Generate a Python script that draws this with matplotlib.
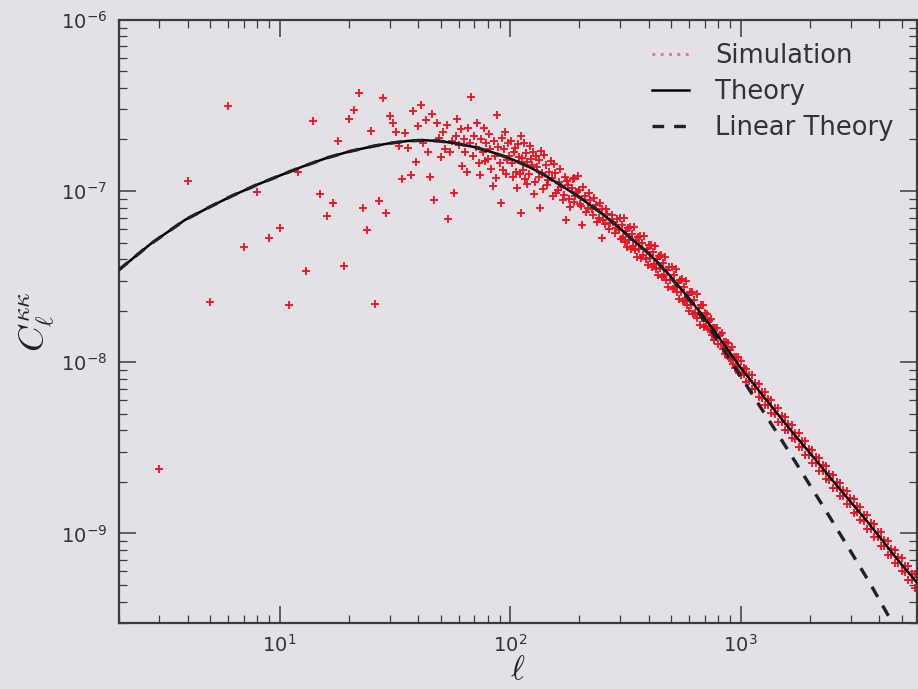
import numpy as np
import matplotlib
matplotlib.use("Agg")
import matplotlib.pyplot as plt
from matplotlib.lines import Line2D

# ---------------- data ----------------
# Theory (non-linear) curve, C in units of 1e-8
ell_theory = [2, 2.75, 3.9, 5, 6.25, 8, 10, 12.6, 16, 20, 25.6, 30, 36, 42, 49, 58,
              69.5, 83, 100, 120, 141, 170, 200, 240, 284, 340, 405, 480, 600, 750,
              1000, 1500, 2500, 3500, 4900, 5800]
cl_theory = [3.45, 4.9, 6.8, 8.1, 9.4, 10.9, 12.3, 13.9, 15.6, 17.0, 18.3, 19.0, 19.6, 19.8,
             19.6, 19.0, 18.1, 16.9, 15.5, 13.9, 12.4, 10.6, 9.2, 7.7, 6.45, 5.2, 4.25, 3.35,
             2.35, 1.6, 0.93, 0.47, 0.205, 0.12, 0.068, 0.052]

# Linear theory, C in units of 1e-8
ell_linear = [2, 2.75, 3.9, 5, 6.25, 8, 10, 12.6, 16, 20, 25.6, 30, 36, 42, 49, 58,
              69.5, 83, 100, 120, 141, 170, 200, 240, 284, 340, 405, 480, 600, 750,
              1000, 1250, 1500, 1800, 2200, 2500, 2900, 3250, 3650, 4000, 4500, 5000]
cl_linear = [3.45, 4.9, 6.8, 8.1, 9.4, 10.9, 12.3, 13.9, 15.6, 17.0, 18.3, 19.0, 19.6, 19.8,
             19.6, 19.0, 18.1, 16.9, 15.5, 13.9, 12.4, 10.6, 9.2, 7.7, 6.45, 5.2, 4.25, 3.32,
             2.3, 1.52, 0.83, 0.52, 0.355, 0.24, 0.156, 0.118, 0.085, 0.066, 0.051, 0.041,
             0.031, 0.024]

# Simulation, low multipoles 3..99 (C in units of 1e-8)
ell_sim_low = list(range(3, 100))
cl_sim_low = [0.238, 11.5, 2.25, 31.4, 4.7, 9.9, 5.3, 6.1, 2.15, 13.0,
              3.4, 25.7, 9.6, 7.1, 8.5, 19.7, 3.66, 26.5, 29.8, 37.4,
              8.0, 5.9, 22.4, 2.19, 8.7, 35.0, 7.4, 27.5, 25.0, 22.2,
              18.2, 11.8, 21.8, 17.8, 12.4, 29.5, 14.8, 24.0, 32.0, 19.0,
              26.0, 17.0, 12.1, 28.0, 8.9, 25.0, 20.5, 15.8, 22.0, 17.5,
              24.3, 6.9, 16.8, 19.5, 9.7, 21.0, 26.3, 18.5, 23.0, 14.0,
              20.0, 17.0, 13.0, 23.3, 19.0, 35.3, 16.0, 21.0, 18.0, 25.0,
              14.6, 12.4, 20.0, 17.0, 23.3, 15.0, 19.0, 15.3, 21.5, 17.5,
              13.5, 10.7, 19.5, 16.0, 11.9, 27.9, 18.0, 14.5, 8.5, 20.5,
              13.3, 17.5, 22.0, 12.5, 15.2, 19.0, 16.0]

# Simulation, multipoles 100..300 (C in units of 1e-8)
ell_sim_mid = [101, 102, 103, 104, 105, 106, 107, 108, 109, 110, 111, 112, 113, 114, 115,
               116, 117, 118, 119, 121, 122, 123, 125, 126, 127, 128, 130, 131, 133, 134,
               135, 136, 138, 139, 141, 143, 144, 146, 148, 150, 152, 153, 155, 157, 159,
               161, 163, 165, 167, 169, 171, 173, 175, 176, 178, 180, 182, 185, 187, 189,
               190, 192, 195, 197, 200, 202, 204, 205, 208, 211, 214, 217, 220, 223, 226,
               229, 232, 236, 239, 243, 246, 250, 250, 253, 257, 260, 264, 268, 272, 276,
               280, 284, 288, 292, 296]
cl_sim_mid = [19.5, 14.6, 12.0, 16.9, 17.8, 13.0, 10.4, 18.8, 15.9, 12.6, 7.4, 21.0, 15.6, 13.2, 19.0,
              11.8, 16.6, 14.8, 11.0, 12.6, 18.4, 15.3, 14.2, 16.9, 9.6, 11.3, 16.0, 13.9, 12.1, 15.1,
              8.0, 17.2, 12.7, 10.3, 16.2, 14.1, 10.8, 11.6, 13.0, 15.0, 11.9, 9.4, 14.4, 12.8, 9.8,
              10.2, 11.3, 13.4, 10.5, 8.9, 9.5, 12.0, 6.8, 11.4, 10.8, 9.0, 8.1, 10.4, 11.7, 8.6,
              11.9, 9.3, 9.9, 12.2, 10.2, 8.4, 8.2, 6.3, 10.6, 9.4, 7.5, 8.0, 9.7, 8.9, 7.9,
              7.2, 9.1, 8.3, 6.6, 7.0, 8.5, 5.3, 7.9, 6.8, 6.4, 7.9, 7.3, 6.0, 6.5, 7.2,
              6.6, 5.7, 6.1, 6.9, 5.9]

# Simulation, multipoles 300..1000 (C in units of 1e-8)
ell_sim_upper = [300, 302, 305, 308, 312, 315, 318, 321, 325, 328, 332, 335, 338, 341, 345,
                 348, 352, 356, 360, 363, 367, 371, 375, 379, 383, 387, 391, 395, 399, 403,
                 408, 412, 416, 420, 425, 429, 434, 438, 443, 447, 452, 457, 462, 466, 471,
                 476, 481, 486, 491, 496, 502, 507, 512, 517, 523, 528, 534, 539, 545, 551,
                 557, 562, 568, 574, 580, 586, 592, 598, 605, 611, 617, 623, 630, 637, 644,
                 650, 657, 664, 671, 678, 685, 692, 700, 707, 715, 722, 730, 738, 746, 754,
                 762, 770, 778, 786, 794, 802, 811, 819, 828, 837, 846, 855, 864, 873, 882,
                 891, 900, 910, 920, 929, 939, 949, 959, 969, 979, 989]
cl_sim_upper = [6.95, 5.22, 6.35, 5.39, 6.92, 5.07, 5.81, 4.68, 6.09, 5.16, 6.15, 4.61, 5.61, 4.77, 6.13,
                4.50, 5.14, 4.13, 5.39, 4.58, 5.47, 4.09, 4.96, 4.22, 5.45, 4.00, 4.56, 3.68, 4.81, 4.07,
                4.84, 3.62, 4.40, 3.73, 4.79, 3.51, 3.99, 3.22, 4.18, 3.54, 4.22, 3.14, 3.80, 3.22, 4.14,
                3.02, 3.44, 2.76, 3.59, 3.02, 3.59, 2.67, 3.23, 2.74, 3.50, 2.56, 2.91, 2.34, 3.04, 2.56,
                3.05, 2.27, 2.75, 2.32, 2.98, 2.17, 2.47, 1.98, 2.58, 2.17, 2.58, 1.91, 2.31, 1.95, 2.50,
                1.82, 2.07, 1.66, 2.15, 1.81, 2.15, 1.60, 1.93, 1.63, 1.91, 1.56, 1.75, 1.54, 1.80, 1.45,
                1.58, 1.35, 1.59, 1.41, 1.58, 1.28, 1.44, 1.28, 1.49, 1.20, 1.31, 1.12, 1.32, 1.16, 1.30,
                1.06, 1.18, 1.04, 1.22, 0.98, 1.07, 0.92, 1.08, 0.95, 1.07, 0.86]

# Simulation, multipoles above 1000: two sides of the tight band (C in units of 1e-8)
ell_sim_band = [1000, 1030, 1060, 1090, 1120, 1160, 1200, 1240, 1280, 1320, 1360, 1410, 1460,
                1510, 1560, 1610, 1670, 1730, 1790, 1850, 1910, 1980, 2050, 2120, 2190, 2270,
                2350, 2430, 2520, 2610, 2700, 2790, 2890, 2990, 3100, 3200, 3310, 3430, 3550,
                3670, 3800, 3930, 4070, 4210, 4360, 4510, 4670, 4830, 5000, 5170, 5350, 5540,
                5730]
cl_sim_band_a = [1.014, 0.850, 0.919, 0.773, 0.838, 0.696, 0.747, 0.622, 0.669, 0.560, 0.605, 0.501, 0.537,
                 0.446, 0.481, 0.402, 0.431, 0.358, 0.385, 0.322, 0.347, 0.288, 0.308, 0.257, 0.2775, 0.2306,
                 0.2475, 0.2065, 0.2206, 0.1837, 0.1977, 0.1653, 0.1775, 0.148, 0.1587, 0.1329, 0.143, 0.119,
                 0.1277, 0.1064, 0.1138, 0.0948, 0.1014, 0.0843, 0.0903, 0.0751, 0.0803, 0.0668, 0.0718, 0.0599,
                 0.0644, 0.0537, 0.0578]
cl_sim_band_b = [0.846, 0.920, 0.767, 0.837, 0.700, 0.754, 0.623, 0.674, 0.559, 0.606, 0.505, 0.543, 0.448,
                 0.484, 0.401, 0.436, 0.359, 0.388, 0.321, 0.348, 0.289, 0.312, 0.258, 0.279, 0.2317, 0.2498,
                 0.2067, 0.2237, 0.1842, 0.1991, 0.1651, 0.1791, 0.1481, 0.1604, 0.1325, 0.1439, 0.1194, 0.129,
                 0.1067, 0.1152, 0.095, 0.1026, 0.0846, 0.0913, 0.0753, 0.0813, 0.0671, 0.0724, 0.06, 0.0649,
                 0.0538, 0.0581, 0.0482]

UNIT = 1e-8
legend_labels = ["Simulation", "Theory", "Linear Theory"]
x_label = r"$\ell$"
y_label = r"$C_\ell^{\kappa\kappa}$"

# ---------------- figure ----------------
BG = "#e3e1e5"
fig = plt.figure(figsize=(9.18, 6.89), dpi=100, facecolor=BG)
ax = fig.add_axes([118.5 / 918, 1 - 623 / 689, (916.5 - 118.5) / 918, (623 - 19.8) / 689])
ax.set_facecolor(BG)

ell_sim = ell_sim_low + ell_sim_mid + ell_sim_upper + ell_sim_band + ell_sim_band
cl_sim = np.array(cl_sim_low + cl_sim_mid + cl_sim_upper + cl_sim_band_a + cl_sim_band_b) * UNIT

ax.plot(ell_sim, cl_sim, ls="none", marker="+", ms=6, mew=1.3, color="#f01020", zorder=2)
l_th, = ax.plot(ell_theory, np.array(cl_theory) * UNIT, color="black", lw=1.8, zorder=3)
l_lin, = ax.plot(ell_linear, np.array(cl_linear) * UNIT, color="#222222", lw=2.4,
                 ls=(0, (3.5, 3.0)), zorder=3)

ax.set_xscale("log")
ax.set_yscale("log")
ax.set_xlim(2, 5800)
ax.set_ylim(3e-10, 1e-6)

for s in ax.spines.values():
    s.set_color("#3c3c3c")
    s.set_linewidth(1.6)

ax.tick_params(which="both", direction="in", top=True, right=True, colors="#3c3c3c",
               labelcolor="#333333")
ax.tick_params(which="major", length=12, width=1.1, labelsize=14, pad=8)
ax.tick_params(which="minor", length=6, width=0.9)

ax.set_xlabel(x_label, fontsize=24, math_fontfamily="cm", labelpad=-2, color="#222222")
ax.set_ylabel(y_label, fontsize=26, math_fontfamily="cm", labelpad=3, color="#222222")

sim_handle = Line2D([], [], color="#ff6070", ls=(0, (1, 2)), lw=2)
leg = ax.legend([sim_handle, l_th, l_lin], legend_labels, loc="upper right",
                frameon=False, fontsize=18.5, handlelength=1.45, handletextpad=1.0,
                labelspacing=0.4, borderaxespad=0.5)
for t in leg.get_texts():
    t.set_color("#333333")

fig.savefig("out.png", dpi=100, facecolor=BG)
